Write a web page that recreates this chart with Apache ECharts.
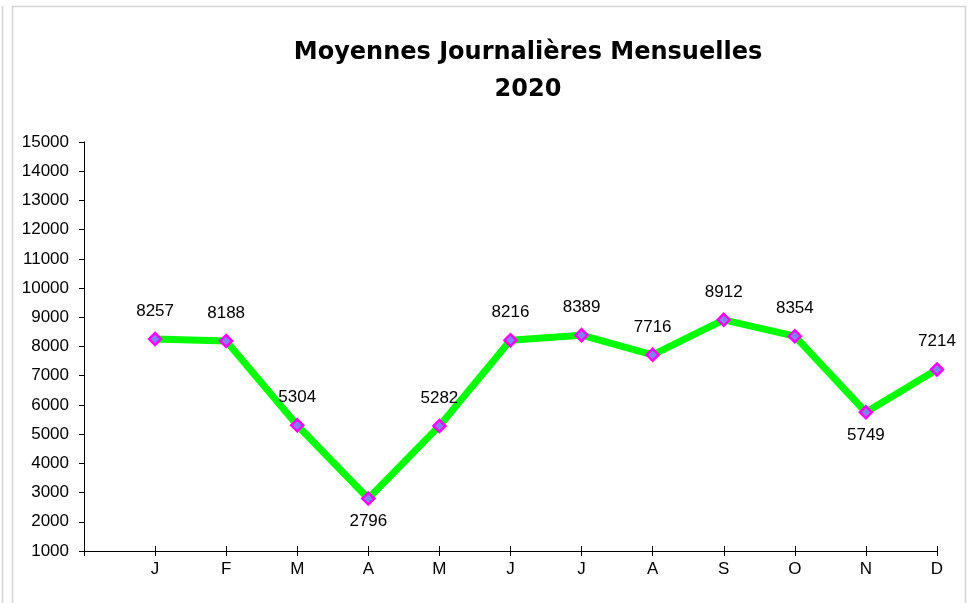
<!DOCTYPE html>
<html>
<head>
    <meta charset="utf-8">
    <title>Moyennes Journalières Mensuelles 2020</title>
    <script src="https://cdn.jsdelivr.net/npm/echarts@6/dist/echarts.min.js"></script>
</head>
<body style="margin: 0">
<div id="container" style="width: 972px; height: 603px"></div>
<script type="text/javascript">
// mois de l'année
var months = ['J', 'F', 'M', 'A', 'M', 'J', 'J', 'A', 'S', 'O', 'N', 'D'];
// moyennes journalières par mois
var values = [8257, 8188, 5304, 2796, 5282, 8216, 8389, 7716, 8912, 8354, 5749, 7214];
// étiquettes placées sous le point
var labelsBelow = [3, 10];

var yMin = 1000, yMax = 15000, yStep = 1000;

// une case vide avant J, comme sur le graphique d'origine
var axisCats = [''].concat(months);
var seriesData = ['-'];
for (var i = 0; i < values.length; i++) {
    var below = labelsBelow.indexOf(i) >= 0;
    seriesData.push({
        value: values[i],
        label: { position: below ? 'bottom' : 'top', distance: below ? 7 : 12 }
    });
}

var myChart = echarts.init(document.getElementById('container'));
var option = {
    backgroundColor: '#fff',
    animation: false,
    title: {
        text: 'Moyennes Journalières Mensuelles\n2020',
        left: 523,
        top: 29,
        textAlign: 'center',
        textStyle: {
            fontFamily: '"Comic Sans MS", "DejaVu Sans", sans-serif',
            fontWeight: 'bold',
            fontSize: 24,
            lineHeight: 37,
            color: '#000'
        }
    },
    graphic: [
        {
            type: 'rect',
            shape: { x: 12.5, y: 6.5, width: 953, height: 610 },
            style: { fill: 'none', stroke: '#d4d4d4', lineWidth: 1.5 },
            silent: true
        },
        {
            type: 'line',
            shape: { x1: 2.5, y1: 6, x2: 2.5, y2: 603 },
            style: { stroke: '#d4d4d4', lineWidth: 1.5 },
            silent: true
        }
    ],
    grid: { left: 84, right: 35, top: 142, bottom: 52, containLabel: false },
    xAxis: [{
        type: 'category',
        data: axisCats,
        boundaryGap: false,
        axisLine: { lineStyle: { color: '#000', width: 1 } },
        axisTick: { alignWithLabel: true, length: 5, lineStyle: { color: '#000' } },
        axisLabel: {
            margin: 10,
            fontFamily: 'Liberation Sans, Arial, sans-serif',
            fontSize: 17,
            color: '#000'
        },
        splitLine: { show: false }
    }, {
        // petits traits au-dessus de l'axe
        type: 'category',
        data: axisCats,
        boundaryGap: false,
        position: 'bottom',
        axisLine: { show: false },
        axisTick: { inside: true, length: 5, lineStyle: { color: '#000' } },
        axisLabel: { show: false },
        splitLine: { show: false }
    }],
    yAxis: {
        type: 'value',
        min: yMin,
        max: yMax,
        interval: yStep,
        axisLine: { show: true, lineStyle: { color: '#000', width: 1 } },
        axisTick: { show: true, length: 5, lineStyle: { color: '#000' } },
        axisLabel: {
            margin: 15,
            formatter: function (v) { return String(v); },
            fontFamily: 'Liberation Sans, Arial, sans-serif',
            fontSize: 17,
            color: '#000'
        },
        splitLine: { show: false }
    },
    series: [{
        type: 'line',
        data: seriesData,
        symbol: 'diamond',
        symbolSize: 12,
        lineStyle: { color: '#00ff00', width: 7 },
        itemStyle: { color: '#8080ff', borderColor: '#ff00ff', borderWidth: 2.5 },
        label: {
            show: true,
            fontFamily: 'Liberation Sans, Arial, sans-serif',
            fontSize: 17,
            color: '#000'
        },
        z: 3
    }]
};
myChart.setOption(option);
</script>
</body>
</html>
